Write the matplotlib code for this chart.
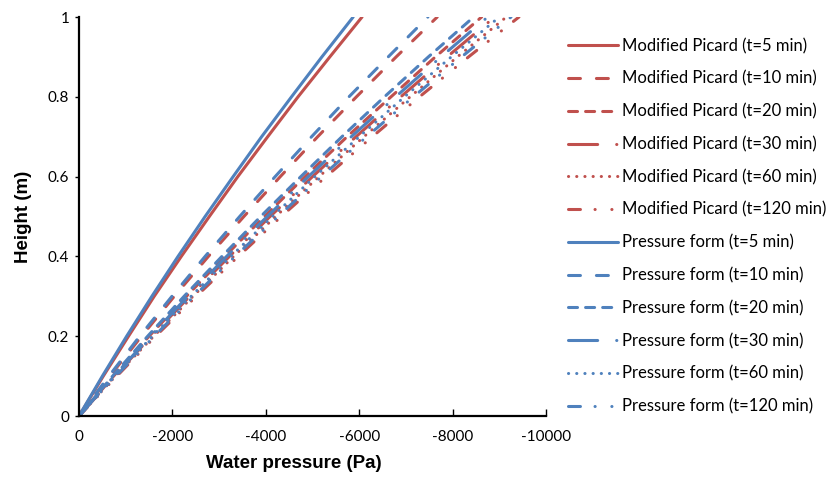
import matplotlib
matplotlib.use("Agg")
import matplotlib.pyplot as plt

plt.rcParams['axes.unicode_minus'] = False
plt.rcParams['lines.scale_dashes'] = False

height = [0.0, 0.1, 0.2, 0.3, 0.4, 0.5, 0.6, 0.7, 0.8, 0.9, 1.0]

picard_5 = [0, -520, -1060, -1610, -2190, -2790, -3400, -4040, -4690, -5370, -6060]
picard_10 = [0, -660, -1340, -2040, -2770, -3530, -4310, -5110, -5940, -6790, -7670]
picard_20 = [0, -740, -1500, -2300, -3120, -3970, -4840, -5740, -6680, -7630, -8620]
picard_30 = [0, -760, -1550, -2370, -3220, -4090, -5000, -5930, -6890, -7880, -8900]
picard_60 = [0, -780, -1600, -2440, -3310, -4210, -5140, -6100, -7090, -8100, -9150]
picard_120 = [0, -810, -1640, -2510, -3410, -4330, -5290, -6280, -7290, -8340, -9420]

pressure_5 = [0, -500, -1020, -1560, -2120, -2700, -3300, -3910, -4550, -5200, -5870]
pressure_10 = [0, -640, -1300, -1990, -2700, -3440, -4200, -4980, -5780, -6620, -7470]
pressure_20 = [0, -720, -1470, -2250, -3060, -3890, -4750, -5630, -6540, -7480, -8450]
pressure_30 = [0, -750, -1530, -2330, -3160, -4030, -4910, -5830, -6780, -7750, -8750]
pressure_60 = [0, -770, -1570, -2400, -3250, -4140, -5050, -6000, -6970, -7970, -9000]
pressure_120 = [0, -790, -1610, -2460, -3340, -4260, -5190, -6160, -7160, -8190, -9250]

times = ["5", "10", "20", "30", "60", "120"]
picard = [picard_5, picard_10, picard_20, picard_30, picard_60, picard_120]
pressure = [pressure_5, pressure_10, pressure_20, pressure_30, pressure_60, pressure_120]

xticks = [0, -2000, -4000, -6000, -8000, -10000]
yticks = [0, 0.2, 0.4, 0.6, 0.8, 1.0]
ytick_labels = ["0", "0.2", "0.4", "0.6", "0.8", "1"]

RED = "#C0504D"
BLUE = "#4F81BD"
LW = 2.2

styles = [
    '-',
    (0, (8.6, 11.5)),
    (0, (6.5, 5.8)),
    (0, (21, 13.7, 0.1, 12)),
    (0, (0.1, 5.8)),
    (0, (8.6, 10.5, 0.1, 12, 0.1, 11)),
]

fig = plt.figure(figsize=(8.37, 4.79), dpi=100)
ax = fig.add_axes([0.0944, 0.1315, 0.558, 0.833])

for series_group, color, name in [(picard, RED, "Modified Picard"), (pressure, BLUE, "Pressure form")]:
    for vals, t, ls in zip(series_group, times, styles):
        ax.plot(vals, height, color=color, lw=LW, linestyle=ls,
                dash_capstyle='round', solid_capstyle='round',
                label=f"{name} (t={t} min)", clip_on=True)

ax.set_xlim(0, -10000)
ax.set_ylim(0, 1)
ax.set_xticks(xticks)
ax.set_xticklabels([str(v) for v in xticks])
ax.set_yticks(yticks)
ax.set_yticklabels(ytick_labels)

tick_font = "Lato"
for lbl in ax.get_xticklabels() + ax.get_yticklabels():
    lbl.set_fontfamily(tick_font)
    lbl.set_fontsize(11)

ax.spines['top'].set_visible(False)
ax.spines['right'].set_visible(False)
ax.spines['left'].set_linewidth(1.6)
ax.spines['bottom'].set_linewidth(1.6)
ax.tick_params(axis='x', direction='in', length=5, width=1, pad=10)
ax.tick_params(axis='y', direction='out', length=3, width=1, pad=4)

ax.set_xlabel("Water pressure (Pa)", fontsize=13.5, fontweight='bold',
              family="Liberation Sans")
ax.set_ylabel("Height (m)", fontsize=13.5, fontweight='bold',
              family="Liberation Sans")
ax.xaxis.set_label_coords(0.46, -0.0977)
ax.yaxis.set_label_coords(-0.1006, 0.5)

leg = fig.legend(loc='upper left', bbox_to_anchor=(0.679, 0.921), frameon=False,
                 prop={'family': tick_font, 'size': 12}, handlelength=3.0,
                 handletextpad=0.24, labelspacing=1.0, borderpad=0, borderaxespad=0)

fig.savefig("out.png", dpi=100)
